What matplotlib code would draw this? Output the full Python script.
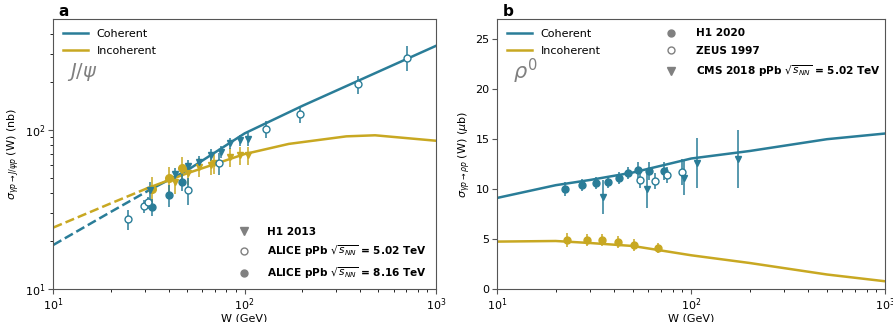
import matplotlib
matplotlib.use('Agg')
import matplotlib.pyplot as plt
from matplotlib.lines import Line2D
import numpy as np

teal = '#2a7d98'
gold = '#c8a822'
grey = '#808080'

# ---- J/psi panel ----
jpsi_line_w = [10, 20, 32, 50, 100, 200, 400, 1000]
jpsi_coh_line = [18.9, 30.5, 42.0, 55.5, 94.8, 141, 205, 336]
jpsi_inc_line_w = [10, 20, 31, 50, 100, 170, 340, 480, 1000]
jpsi_inc_line = [24.3, 34.5, 42.9, 53.2, 70.3, 81.4, 90.8, 92.2, 85.2]

h1_13_w = [32.1, 43.2, 50.7, 57.7, 66.7, 75.2, 83.8, 94.4, 104.5]
h1_13_coh = [41.8, 52.5, 59.4, 62.9, 69.3, 72.8, 82.2, 86.0, 87.5]
h1_13_coh_err = [5, 5, 5, 5, 6, 6, 7, 7, 8]
h1_13_inc_w = [43.5, 50.7, 57.7, 66.7, 69.0, 83.8, 94.4, 104.5]
h1_13_inc = [47.2, 53.2, 58.6, 60.0, 61.5, 67.7, 69.3, 69.3]
h1_13_inc_err = [8, 8, 8, 8, 9, 9, 9, 9]

alice502_w = [24.5, 29.8, 31.1, 50.7, 73.5, 130, 194, 393, 705]
alice502 = [27.5, 33.2, 35.0, 41.8, 61.8, 100.6, 125.6, 193.6, 283]
alice502_err = [4, 3, 3, 8, 10, 12, 15, 25, 50]

alice816_w = [32.9, 40.2, 47.2]
alice816_coh = [32.6, 38.9, 47.0]
alice816_coh_err = [4, 6, 6]
alice816_inc = [42.5, 49.5, 57.3]
alice816_inc_err = [8, 9, 10]

# ---- rho panel ----
rho_line_w = [10, 20, 30, 50, 100, 200, 500, 1000]
rho_coh_line = [9.11, 10.38, 10.9, 11.65, 13.05, 13.8, 14.98, 15.55]
rho_inc_line = [4.74, 4.80, 4.60, 4.30, 3.37, 2.60, 1.45, 0.77]

h1_20_w = [22.4, 27.4, 32.4, 37.3, 42.2, 47.4, 53.1, 60.8, 72.6]
h1_20_coh = [9.95, 10.35, 10.58, 10.71, 11.11, 11.55, 11.85, 11.78, 11.75]
h1_20_coh_err = [0.7, 0.6, 0.6, 0.6, 0.6, 0.6, 0.8, 0.9, 0.9]
h1_20_inc_w = [22.9, 28.9, 34.8, 41.9, 50.8, 67.6]
h1_20_inc = [4.87, 4.87, 4.87, 4.67, 4.44, 4.14]
h1_20_inc_err = [0.7, 0.6, 0.6, 0.6, 0.6, 0.5]

zeus_w = [54.6, 64.8, 74.6, 89.6]
zeus = [10.88, 10.78, 11.41, 11.68]
zeus_err = [0.8, 0.8, 0.8, 1.3]

cms_w = [35.2, 58.9, 92.1, 107, 175]
cms = [9.21, 9.98, 11.05, 12.55, 12.98]
cms_err = [1.7, 1.9, 1.7, 2.5, 2.9]

fig = plt.figure(figsize=(8.93, 3.22), dpi=100)
ax1 = fig.add_axes([0.0597, 0.1025, 0.4286, 0.8385])
ax2 = fig.add_axes([0.5569, 0.1025, 0.4345, 0.8385])

ms = 4.5
eb = dict(ls='none', elinewidth=1.1, capsize=0)
fs = 8
bold = {'weight': 'bold', 'size': 7.6}

# panel a
ax1.plot(jpsi_line_w[2:], jpsi_coh_line[2:], color=teal, lw=1.8, label='Coherent')
ax1.plot(jpsi_line_w[:3], jpsi_coh_line[:3], color=teal, lw=1.8, ls='--')
ax1.plot(jpsi_inc_line_w[2:], jpsi_inc_line[2:], color=gold, lw=1.8, label='Incoherent')
ax1.plot(jpsi_inc_line_w[:3], jpsi_inc_line[:3], color=gold, lw=1.8, ls='--')

ax1.errorbar(h1_13_inc_w, h1_13_inc, yerr=h1_13_inc_err, fmt='v', color=gold, ms=ms+0.5, **eb)
ax1.errorbar(alice816_w, alice816_inc, yerr=alice816_inc_err, fmt='o', color=gold, ms=ms+1, **eb)
ax1.errorbar(h1_13_w, h1_13_coh, yerr=h1_13_coh_err, fmt='v', color=teal, ms=ms+0.5, **eb)
ax1.errorbar(alice816_w, alice816_coh, yerr=alice816_coh_err, fmt='o', color=teal, ms=ms+0.5, **eb)
ax1.errorbar(alice502_w, alice502, yerr=alice502_err, fmt='o', color=teal, mfc='white', ms=ms+0.5, **eb)

ax1.set_xscale('log')
ax1.set_yscale('log')
ax1.set_xlim(10, 1000)
ax1.set_ylim(10, 495)
ax1.set_xlabel('W (GeV)', fontsize=fs, labelpad=0)
ax1.set_ylabel(r'$\sigma_{\gamma p \to J/\psi p}$ (W) (nb)', fontsize=fs, labelpad=2)
ax1.text(0.035, 0.805, r'$J/\psi$', transform=ax1.transAxes, fontsize=14, color=grey, va='center')
ax1.text(0.012, 1.01, 'a', transform=ax1.transAxes, fontsize=11, fontweight='bold')
leg1 = ax1.legend(loc='upper left', frameon=False, fontsize=fs, handlelength=2.2, labelspacing=0.6)
ax1.add_artist(leg1)
h_a = [Line2D([], [], ls='none', marker='v', color=grey, ms=5.5),
       Line2D([], [], ls='none', marker='o', color=grey, mfc='white', ms=5),
       Line2D([], [], ls='none', marker='o', color=grey, ms=5)]
lab_a = ['H1 2013', r'ALICE pPb $\sqrt{s_{NN}}$ = 5.02 TeV', r'ALICE pPb $\sqrt{s_{NN}}$ = 8.16 TeV']
ax1.legend(h_a, lab_a, loc='lower right', bbox_to_anchor=(1.0, -0.005), frameon=False,
           handletextpad=1.2, labelspacing=0.6, prop=bold)

# panel b
ax2.plot(rho_line_w, rho_coh_line, color=teal, lw=1.8, label='Coherent')
ax2.plot(rho_line_w, rho_inc_line, color=gold, lw=1.8, label='Incoherent')
ax2.errorbar(h1_20_w, h1_20_coh, yerr=h1_20_coh_err, fmt='o', color=teal, ms=ms+0.5, **eb)
ax2.errorbar(h1_20_inc_w, h1_20_inc, yerr=h1_20_inc_err, fmt='o', color=gold, ms=ms+0.5, **eb)
ax2.errorbar(zeus_w, zeus, yerr=zeus_err, fmt='o', color=teal, mfc='white', ms=ms+0.5, **eb)
ax2.errorbar(cms_w, cms, yerr=cms_err, fmt='v', color=teal, ms=ms+0.5, **eb)

ax2.set_xscale('log')
ax2.set_xlim(10, 1000)
ax2.set_ylim(0, 27)
ax2.set_xlabel('W (GeV)', fontsize=fs, labelpad=0)
ax2.set_ylabel(r'$\sigma_{\gamma p \to \rho p}$ (W) ($\mu$b)', fontsize=fs, labelpad=2)
ax2.text(0.04, 0.805, r'$\rho^0$', transform=ax2.transAxes, fontsize=15, color=grey, va='center')
ax2.text(0.015, 1.01, 'b', transform=ax2.transAxes, fontsize=11, fontweight='bold')
leg2 = ax2.legend(loc='upper left', frameon=False, fontsize=fs, handlelength=2.2, labelspacing=0.6)
ax2.add_artist(leg2)
h_b = [Line2D([], [], ls='none', marker='o', color=grey, ms=5),
       Line2D([], [], ls='none', marker='o', color=grey, mfc='white', ms=5),
       Line2D([], [], ls='none', marker='v', color=grey, ms=5.5)]
lab_b = ['H1 2020', 'ZEUS 1997', r'CMS 2018 pPb $\sqrt{s_{NN}}$ = 5.02 TeV']
ax2.legend(h_b, lab_b, loc='upper left', bbox_to_anchor=(0.395, 1.0), frameon=False,
           handletextpad=1.4, labelspacing=0.7, prop=bold)

for ax in (ax1, ax2):
    ax.tick_params(labelsize=fs, pad=2, color='#555555')
    ax.tick_params(which='major', length=3.5, width=0.8)
    ax.tick_params(which='minor', length=2, width=0.6)
    for s in ax.spines.values():
        s.set_color('#555555')

fig.savefig('out.png', dpi=100)
